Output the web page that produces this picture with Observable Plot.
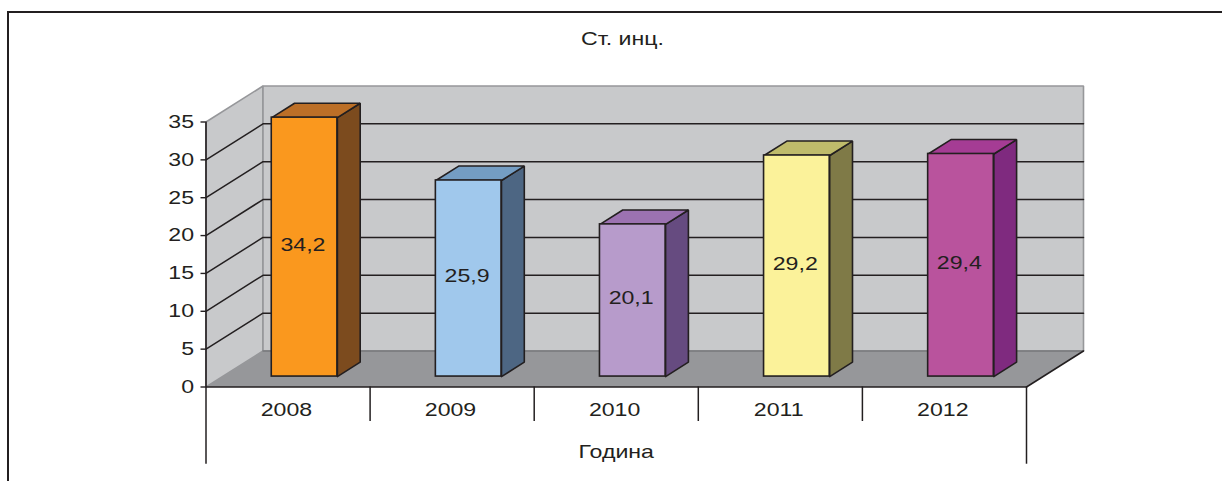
<!DOCTYPE html>
<html>
<head>
<meta charset="utf-8">
<script src="https://cdn.jsdelivr.net/npm/d3@7"></script>
<script src="https://cdn.jsdelivr.net/npm/@observablehq/plot@0.6"></script>
<style>
html,body{margin:0;padding:0;background:#fff;overflow:hidden}
#wrap{position:relative;width:1222px;height:481px;overflow:hidden}
#edge{position:absolute;left:7px;top:11px;right:-3px;bottom:-3px;border-left:2px solid #231f20;border-top:2px solid #231f20}
svg{display:block;position:absolute;left:0;top:0}
</style>
</head>
<body>
<div id="wrap"><div id="edge"></div></div>
<script>
const years = ["2008", "2009", "2010", "2011", "2012"];
const values = [34.2, 25.9, 20.1, 29.2, 29.4];
const valueLabels = ["34,2", "25,9", "20,1", "29,2", "29,4"];
const frontColors = ["#fa981e", "#a0c8ec", "#b79bcb", "#fbf29a", "#b9539d"];
const sideColors = ["#7c4b1e", "#4d6683", "#664b80", "#7f7a47", "#7f2a7f"];
const topColors = ["#bc6f27", "#749dc3", "#9c72b1", "#bfbb6b", "#a53c94"];
const yTicks = [0, 5, 10, 15, 20, 25, 30, 35];
const gridValues = [5, 10, 15, 20, 25, 30];
const chartTitle = "Ст. инц.";
const axisTitle = "Година";

const ink = "#231f20", wall = "#c8c9cb", floorColor = "#96979a", edge = "#96979a";
const DX = 57 / 164.1, DY = 36 / 7.571;      // depth of the box in scale units
const P = (x, y, z = 0) => ({x: x + z * DX, y: y + z * DY});
const zFront = 0.29, zBack = 0.69, half = 0.2;
const poly = (id, c, pts) => [...pts, pts[0]].map(p => ({...p, id, c}));
const n = years.length, maxY = 35;

const walls = [
  ...poly("left", wall, [P(0, 0), P(0, maxY), P(0, maxY, 1), P(0, 0, 1)]),
  ...poly("back", wall, [P(0, 0, 1), P(0, maxY, 1), P(n, maxY, 1), P(n, 0, 1)])
];
const floorFace = poly("floor", floorColor, [P(0, 0), P(n, 0), P(n, 0, 1), P(0, 0, 1)]);
const grid = gridValues.flatMap(v => [
  {...P(0, v), id: v}, {...P(0, v, 1), id: v}, {...P(n, v, 1), id: v}
]);
const bars = years.map((year, i) => {
  const cx = i + 0.5, v = values[i];
  return {year, v, c: frontColors[i], label: valueLabels[i], cx,
    x1: P(cx - half, 0, zFront).x, x2: P(cx + half, 0, zFront).x,
    y1: P(0, 0, zFront).y, y2: P(0, v, zFront).y};
});
const sides = bars.flatMap((b, i) => poly("s" + i, sideColors[i], [
  P(b.cx + half, 0, zFront), P(b.cx + half, b.v, zFront), P(b.cx + half, b.v, zBack), P(b.cx + half, 0, zBack)
]));
const tops = bars.flatMap((b, i) => poly("t" + i, topColors[i], [
  P(b.cx - half, b.v, zFront), P(b.cx + half, b.v, zFront), P(b.cx + half, b.v, zBack), P(b.cx - half, b.v, zBack)
]));
const faceOpts = {x: "x", y: "y", z: "id", fill: "c", strokeLinejoin: "miter"};
const font = 18.5;

const plot = Plot.plot({
  width: 1222, height: 481,
  marginLeft: 205.5, marginRight: 196, marginTop: 121.5, marginBottom: 94.5,
  style: {background: "transparent", fontFamily: "'Liberation Sans', Arial, sans-serif", color: ink},
  color: {type: "identity"},
  x: {domain: [0, n], axis: null},
  y: {domain: [0, maxY], axis: null},
  marks: [
    Plot.line(walls, {...faceOpts, stroke: edge, strokeWidth: 1.6}),
    Plot.line(floorFace, {...faceOpts, stroke: "none"}),
    Plot.line([P(0, 0, 1), P(n, 0, 1)], {x: "x", y: "y", stroke: "#77787b", strokeWidth: 1.5}),
    Plot.line(grid, {x: "x", y: "y", z: "id", stroke: ink, strokeWidth: 1.5}),
    Plot.line([P(n, 0), P(n, 0, 1)], {x: "x", y: "y", stroke: ink, strokeWidth: 1.5}),
    Plot.line([P(0, maxY), P(0, 0), P(n, 0)], {x: "x", y: "y", stroke: ink, strokeWidth: 1.6}),
    Plot.axisY({ticks: yTicks, anchor: "left", tickSize: 5, tickPadding: 7, fontSize: font, label: null, strokeWidth: 1.4, stroke: ink, fill: ink}),
    Plot.line(sides, {...faceOpts, stroke: ink, strokeWidth: 1.6}),
    Plot.line(tops, {...faceOpts, stroke: ink, strokeWidth: 1.6}),
    Plot.rect(bars, {x1: "x1", x2: "x2", y1: "y1", y2: "y2", fill: "c", stroke: ink, strokeWidth: 1.6}),
    Plot.text(bars, {x: d => P(d.cx - 0.01, 0, zFront).x, y: d => P(0, d.v / 2, zFront).y, dy: -2, text: "label", fontSize: font, fill: ink}),
    Plot.ruleX(d3.range(1, n), {y1: 0, y2: -4.56, stroke: ink, strokeWidth: 1.5}),
    Plot.ruleX([0, n], {y1: 0, y2: -10.2, stroke: ink, strokeWidth: 1.5}),
    Plot.text(years, {x: (d, i) => i + 0.49, y: -3.05, text: d => d, fontSize: font, fill: ink}),
    Plot.text([axisTitle], {x: n / 2, y: -8.6, text: d => d, fontSize: font, fill: ink}),
    Plot.text([chartTitle], {x: 2.538, y: 45.9, text: d => d, fontSize: font, fill: ink})
  ]
});
document.getElementById("wrap").append(plot);

// The reference's lettering is wider than the font's natural proportions.
plot.querySelectorAll("text").forEach(t => {
  t.setAttribute("textLength", t.getComputedTextLength() * 1.25);
  t.setAttribute("lengthAdjust", "spacingAndGlyphs");
});
</script>
</body>
</html>
